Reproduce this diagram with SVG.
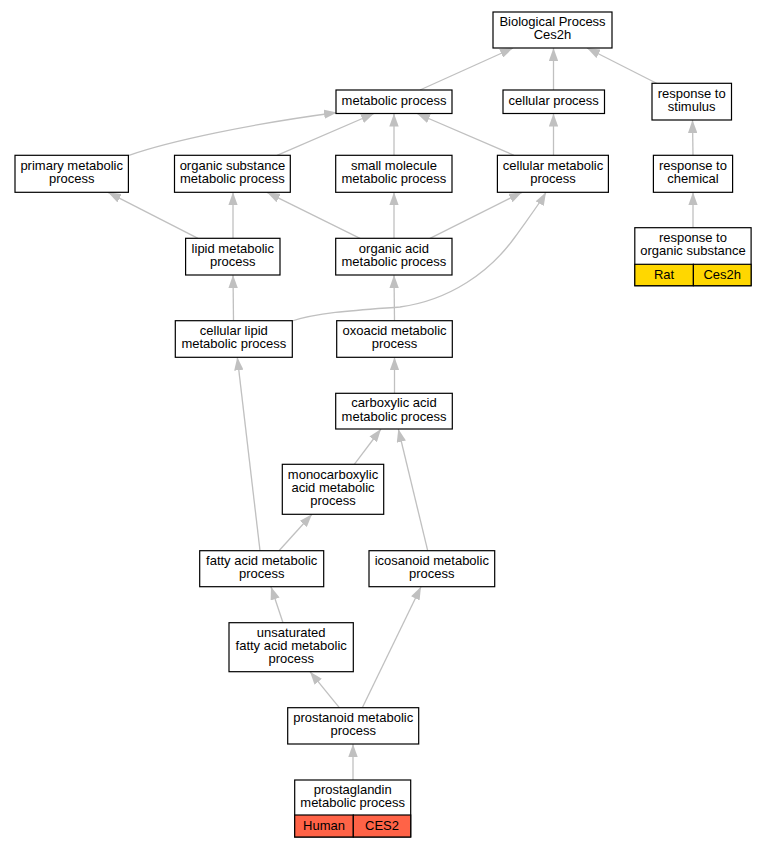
<svg xmlns="http://www.w3.org/2000/svg" width="765" height="848" viewBox="0 0 765 848">
<style>
.n rect{fill:#fff;stroke:#000;stroke-width:1.2}
.n text,.t{font-family:"Liberation Sans",Arial,sans-serif;font-size:13px;fill:#000;text-anchor:middle}
.e path{fill:none;stroke:#c0c0c0;stroke-width:1.3}
rect.rat{fill:#ffd700;stroke:#000;stroke-width:1.2}
rect.hum{fill:#ff6347;stroke:#000;stroke-width:1.2}
</style>
<defs>
<marker id="a" viewBox="0 0 13 9.4" refX="13" refY="4.7" markerWidth="13" markerHeight="9.4" markerUnits="userSpaceOnUse" orient="auto">
<path d="M0,0 L13,4.7 L0,9.4 z" fill="#c0c0c0"/>
</marker>
</defs>
<rect width="765" height="848" fill="#fff"/>
<g id="edges" class="e">
<path marker-end="url(#a)" d="M420,90 L513,48"/>
<path marker-end="url(#a)" d="M553.5,90 L553.5,48"/>
<path marker-end="url(#a)" d="M657,83.5 L587,48"/>
<path marker-end="url(#a)" d="M129,155.3 C170,141 250,124 337,112.5"/>
<path marker-end="url(#a)" d="M277,155.3 L374,113.5"/>
<path marker-end="url(#a)" d="M394,155.3 L394,113.5"/>
<path marker-end="url(#a)" d="M514,155.3 L417,113.5"/>
<path marker-end="url(#a)" d="M553.5,155.3 L553.5,113.5"/>
<path marker-end="url(#a)" d="M693,155.3 L692.5,120"/>
<path marker-end="url(#a)" d="M693,227.7 L693,192.3"/>
<path marker-end="url(#a)" d="M198,238.3 L108,192.3"/>
<path marker-end="url(#a)" d="M233,238.3 L233,192.3"/>
<path marker-end="url(#a)" d="M360,238.3 L267,192.3"/>
<path marker-end="url(#a)" d="M394,238.3 L394,192.3"/>
<path marker-end="url(#a)" d="M430,238.3 L522,192.3"/>
<path marker-end="url(#a)" d="M292,321 C320,312 360,310 400,307 C450,300 490,272 515,237 C530,216 540,203 546,192.3"/>
<path marker-end="url(#a)" d="M233.5,320.7 L233,275"/>
<path marker-end="url(#a)" d="M394.5,320.7 L394,275"/>
<path marker-end="url(#a)" d="M394.5,393.3 L394.5,357.3"/>
<path marker-end="url(#a)" d="M354.3,464.3 L381,429"/>
<path marker-end="url(#a)" d="M427.7,550.7 L398.3,429"/>
<path marker-end="url(#a)" d="M260,550.7 L237.3,357.3"/>
<path marker-end="url(#a)" d="M279,550.7 L312,514.3"/>
<path marker-end="url(#a)" d="M283,622.7 L271,586.7"/>
<path marker-end="url(#a)" d="M339.3,707.7 L310,671.7"/>
<path marker-end="url(#a)" d="M362.3,707.7 L421,586.7"/>
<path marker-end="url(#a)" d="M353,780 L353,744"/>
</g>
<g id="bp" class="n"><rect x="493" y="12" width="119" height="36"/><text x="552.5" y="26">Biological Process</text><text x="552.5" y="39.3">Ces2h</text></g>
<g id="metabolic" class="n"><rect x="336" y="90" width="116" height="23.5"/><text x="394" y="104.5">metabolic process</text></g>
<g id="cellular" class="n"><rect x="503" y="90" width="101.5" height="23.5"/><text x="553.7" y="104.5">cellular process</text></g>
<g id="stimulus" class="n"><rect x="652" y="83.3" width="79.5" height="36.7"/><text x="691.7" y="97.7">response to</text><text x="691.7" y="111">stimulus</text></g>
<g id="primary" class="n"><rect x="15" y="155.3" width="113.4" height="37"/><text x="71.7" y="169.8">primary metabolic</text><text x="71.7" y="183.1">process</text></g>
<g id="orgsub" class="n"><rect x="174.5" y="155.3" width="115.8" height="37"/><text x="232.4" y="169.8">organic substance</text><text x="232.4" y="183.1">metabolic process</text></g>
<g id="smallmol" class="n"><rect x="335.7" y="155.3" width="116.3" height="37"/><text x="393.9" y="169.8">small molecule</text><text x="393.9" y="183.1">metabolic process</text></g>
<g id="cellmet" class="n"><rect x="497.4" y="155.3" width="111" height="37"/><text x="553" y="169.8">cellular metabolic</text><text x="553" y="183.1">process</text></g>
<g id="chemical" class="n"><rect x="653.4" y="155.3" width="79.2" height="37"/><text x="693" y="169.8">response to</text><text x="693" y="183.1">chemical</text></g>
<g id="orgsubresp" class="n"><rect x="634.8" y="227.7" width="116.3" height="58"/><rect class="rat" x="634.8" y="264.3" width="58.6" height="21.4"/><rect class="rat" x="693.4" y="264.3" width="57.7" height="21.4"/><text x="693" y="242">response to</text><text x="693" y="255.3">organic substance</text><text x="664.1" y="279">Rat</text><text x="722.2" y="279">Ces2h</text></g>
<g id="lipid" class="n"><rect x="185.6" y="238.3" width="94.4" height="36.7"/><text x="232.8" y="252.7">lipid metabolic</text><text x="232.8" y="266">process</text></g>
<g id="orgacid" class="n"><rect x="335.7" y="238.3" width="116.3" height="36.7"/><text x="393.9" y="252.7">organic acid</text><text x="393.9" y="266">metabolic process</text></g>
<g id="celllipid" class="n"><rect x="175.3" y="320.7" width="117" height="36.6"/><text x="233.8" y="335">cellular lipid</text><text x="233.8" y="348.3">metabolic process</text></g>
<g id="oxoacid" class="n"><rect x="336.7" y="320.7" width="115.6" height="36.6"/><text x="394.5" y="335">oxoacid metabolic</text><text x="394.5" y="348.3">process</text></g>
<g id="carboxylic" class="n"><rect x="335.7" y="393.3" width="116.6" height="35.7"/><text x="394" y="407.2">carboxylic acid</text><text x="394" y="420.5">metabolic process</text></g>
<g id="monocarb" class="n"><rect x="282.3" y="464.3" width="101.4" height="50"/><text x="333" y="478.6">monocarboxylic</text><text x="333" y="492">acid metabolic</text><text x="333" y="505.3">process</text></g>
<g id="fatty" class="n"><rect x="199.7" y="550.7" width="124" height="36"/><text x="261.7" y="564.7">fatty acid metabolic</text><text x="261.7" y="578">process</text></g>
<g id="icosanoid" class="n"><rect x="369" y="550.7" width="125.7" height="36"/><text x="431.8" y="564.7">icosanoid metabolic</text><text x="431.8" y="578">process</text></g>
<g id="unsat" class="n"><rect x="229" y="622.7" width="124.3" height="49"/><text x="291.2" y="636.5">unsaturated</text><text x="291.2" y="649.9">fatty acid metabolic</text><text x="291.2" y="663.2">process</text></g>
<g id="prostanoid" class="n"><rect x="287.7" y="707.7" width="131" height="36.3"/><text x="353.2" y="721.8">prostanoid metabolic</text><text x="353.2" y="735.1">process</text></g>
<g id="prostaglandin" class="n"><rect x="294.7" y="780" width="116" height="57"/><rect class="hum" x="294.7" y="815" width="58.6" height="22"/><rect class="hum" x="353.3" y="815" width="57.4" height="22"/><text x="352.7" y="793.5">prostaglandin</text><text x="352.7" y="806.8">metabolic process</text><text x="324" y="830">Human</text><text x="382" y="830">CES2</text></g>
</svg>
